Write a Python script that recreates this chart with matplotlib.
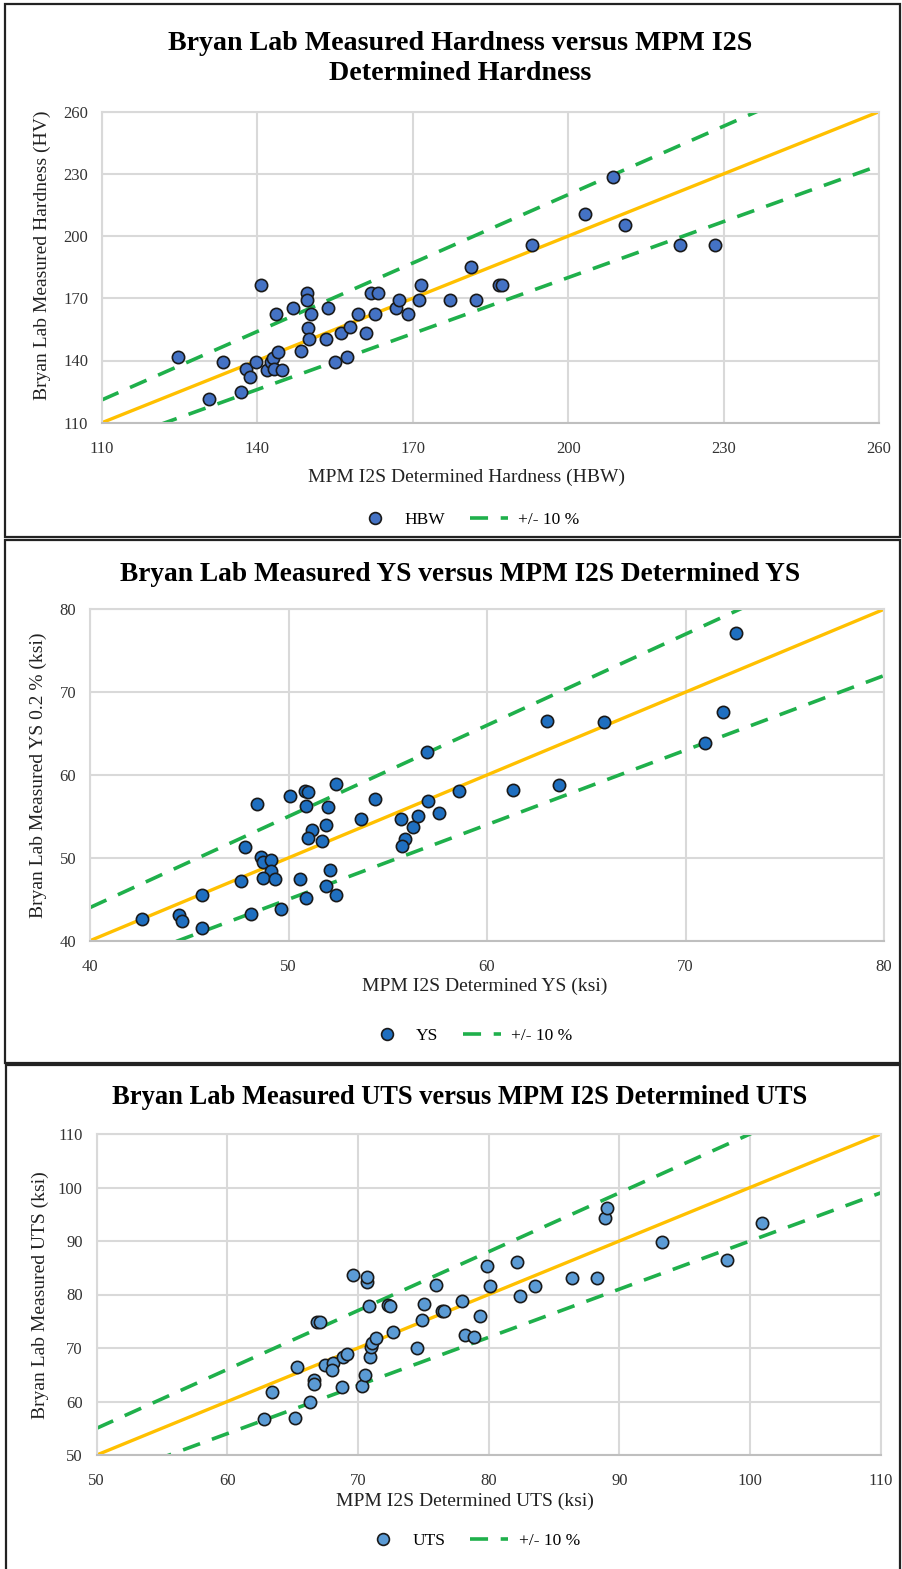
import matplotlib
matplotlib.use("Agg")
import matplotlib.pyplot as plt
from matplotlib.lines import Line2D
from matplotlib.patches import Rectangle

# Panel 1: hardness
hbw_x = [124.6, 130.7, 133.4, 136.9, 137.8, 138.6, 139.7, 140.8, 141.8, 142.7,
         143.0, 143.2, 143.9, 143.6, 144.8, 146.8, 148.5, 149.5, 149.5, 150.4,
         149.8, 150.0, 153.6, 153.3, 154.9, 156.2, 157.3, 157.9, 159.4, 161.0,
         162.0, 163.2, 162.8, 166.7, 167.4, 169.0, 171.6, 171.3, 177.1, 181.2,
         182.3, 186.7, 187.2, 193.0, 203.3, 208.7, 211.0, 221.5, 228.4]
hv_y = [141.6, 121.3, 139.2, 125.0, 135.8, 132.2, 139.2, 176.2, 135.6, 139.2,
        141.1, 135.8, 144.3, 162.2, 135.5, 165.3, 144.5, 172.5, 169.3, 162.2,
        155.9, 150.6, 165.4, 150.6, 139.2, 153.5, 141.6, 156.1, 162.2, 153.5,
        172.5, 172.5, 162.2, 165.4, 169.3, 162.2, 176.2, 169.3, 169.3, 185.2,
        169.3, 176.2, 176.2, 195.5, 210.7, 228.4, 205.5, 195.5, 195.5]

# Panel 2: yield strength (ksi)
ys_x = [42.6, 44.5, 44.65, 45.66, 45.66, 47.59, 47.8, 48.4, 48.1, 48.6,
        48.7, 49.1, 49.1, 48.7, 49.3, 49.6, 50.1, 50.85, 51.0, 50.9,
        51.2, 51.0, 50.6, 50.9, 51.7, 52.4, 52.0, 51.9, 52.1, 51.9,
        52.4, 53.65, 54.34, 55.67, 55.87, 55.7, 56.29, 56.5, 56.96, 57.05,
        57.6, 58.6, 61.3, 63.04, 65.9, 63.63, 70.98, 71.89, 72.54]
ys_y = [42.6, 43.1, 42.4, 41.57, 45.55, 47.24, 51.3, 56.5, 43.2, 50.1,
        49.5, 49.7, 48.4, 47.6, 47.5, 43.8, 57.5, 58.07, 58.0, 56.3,
        53.4, 52.4, 47.4, 45.2, 52.0, 58.95, 56.1, 53.97, 48.5, 46.6,
        45.55, 54.7, 57.14, 54.7, 52.3, 51.4, 53.7, 55.0, 62.8, 56.9,
        55.45, 58.07, 58.15, 66.55, 66.4, 58.83, 63.83, 67.57, 77.1]

# Panel 3: ultimate tensile strength (ksi)
uts_x = [62.8, 63.4, 65.2, 65.3, 66.3, 66.6, 66.6, 66.86, 67.1, 67.47,
         68.06, 68.0, 68.8, 68.87, 69.15, 69.6, 70.28, 70.55, 70.68, 70.7,
         70.86, 70.9, 70.99, 71.1, 71.37, 72.3, 72.46, 72.65, 74.53, 74.9,
         75.04, 75.94, 76.44, 76.6, 77.97, 78.2, 78.9, 79.3, 79.84, 80.07,
         82.16, 82.36, 83.56, 86.4, 88.3, 88.9, 89.07, 93.25, 98.2, 100.9]
uts_y = [56.7, 61.7, 57.0, 66.5, 59.85, 64.0, 63.2, 74.86, 74.86, 66.9,
         67.26, 65.8, 62.8, 68.26, 68.9, 83.6, 62.96, 64.95, 82.4, 83.27,
         77.8, 68.26, 70.25, 70.9, 71.8, 78.0, 77.8, 73.0, 70.06, 75.2,
         78.3, 81.7, 76.9, 76.9, 78.8, 72.5, 72.1, 76.0, 85.3, 81.5,
         86.1, 79.66, 81.5, 83.1, 83.1, 94.3, 96.2, 89.9, 86.45, 93.3]

W, H = 902, 1569
SERIF = ["Liberation Serif", "DejaVu Serif"]
GREEN = "#1FB04B"
ORANGE = "#FFC000"
GRID = "#D9D9D9"


def fx(px):
    return px / W


def fy(py):
    return 1 - py / H


def panel(fig, box, lims, step, xs, ys, color, name, title_lines, title_y,
          title_size, xlabel, xlabel_pos, ylabel, ylabel_pos, legend_pos):
    """Draw one boxed scatter panel; box and positions are in pixels."""
    x0, x1, ytop, ybot = box
    ax = fig.add_axes([fx(x0), fy(ybot), fx(x1 - x0), (ybot - ytop) / H])
    lo, hi = lims
    ticks = list(range(lo, hi + 1, step))
    ax.set_xlim(lo, hi)
    ax.set_ylim(lo, hi)
    ax.set_xticks(ticks)
    ax.set_yticks(ticks)
    ax.grid(True, color=GRID, lw=1.5)
    ax.set_axisbelow(True)
    for s in ax.spines.values():
        s.set_color(GRID)
        s.set_linewidth(1.5)
    ax.spines["bottom"].set_color("#BFBFBF")
    ax.tick_params(length=0, labelsize=12, colors="#333333")
    ax.tick_params(axis="x", pad=13)
    ax.tick_params(axis="y", pad=10)
    for lab in ax.get_xticklabels() + ax.get_yticklabels():
        lab.set_family(SERIF)

    ax.plot([lo, hi], [lo, hi], color=ORANGE, lw=2.4, zorder=2)
    ax.plot([lo, hi], [1.1 * lo, 1.1 * hi], color=GREEN, lw=2.6,
            dashes=(5, 3.5), zorder=2)
    ax.plot([lo, hi], [0.9 * lo, 0.9 * hi], color=GREEN, lw=2.6,
            dashes=(5, 3.5), zorder=2)
    ax.scatter(xs, ys, s=78, color=color, edgecolor="#1A1A1A",
               linewidth=1.2, zorder=3, clip_on=False)

    for i, line in enumerate(title_lines):
        fig.text(fx(460), fy(title_y + i * 31), line,
                 ha="center", va="center", fontsize=title_size,
                 fontweight="bold", family=SERIF)
    fig.text(fx(xlabel_pos[0]), fy(xlabel_pos[1]), xlabel, ha="center",
             va="center", fontsize=14, family=SERIF, color="#222222")
    fig.text(fx(ylabel_pos[0]), fy(ylabel_pos[1]), ylabel, ha="center",
             va="center", rotation=90, fontsize=14, family=SERIF,
             color="#222222")

    handles = [
        Line2D([], [], ls="none", marker="o", ms=8.5, mfc=color,
               mec="#1A1A1A", mew=1.2, label=name),
        Line2D([], [], color=GREEN, lw=2.6, dashes=(5, 3.5),
               label="+/- 10 %"),
    ]
    ax.legend(handles=handles, loc="center", ncol=2, frameon=False,
              bbox_to_anchor=(fx(legend_pos[0]), fy(legend_pos[1])),
              bbox_transform=fig.transFigure, prop={"family": SERIF,
                                                    "size": 12.5},
              handlelength=2.2, columnspacing=1.4, handletextpad=0.6)
    return ax


def main():
    fig = plt.figure(figsize=(W / 100, H / 100), dpi=100)

    # boxes around the three panels
    for left, top, bottom in [(5, 4, 537), (5, 540, 1063), (6, 1065, 1572)]:
        fig.add_artist(Rectangle((fx(left), fy(bottom)), fx(900 - left),
                                 (bottom - top) / H, fill=False,
                                 ec="#222222", lw=1.6,
                                 transform=fig.transFigure))

    panel(fig, (101.9, 879, 111.7, 422.7), (110, 260), 30, hbw_x, hv_y,
          "#4472C4", "HBW",
          ["Bryan Lab Measured Hardness versus MPM I2S",
           "Determined Hardness"], 43, 20.2,
          "MPM I2S Determined Hardness (HBW)", (466, 477),
          "Bryan Lab Measured Hardness (HV)", (42, 255), (468, 520))

    panel(fig, (90, 884, 609.3, 940.7), (40, 80), 10, ys_x, ys_y,
          "#1F6FC0", "YS",
          ["Bryan Lab Measured YS versus MPM I2S Determined YS"], 574, 19.7,
          "MPM I2S Determined YS (ksi)", (485, 986),
          "Bryan Lab Measured YS 0.2 % (ksi)", (38, 775), (470, 1036))

    panel(fig, (96.7, 880.7, 1134, 1455), (50, 110), 10, uts_x, uts_y,
          "#5B9BD5", "UTS",
          ["Bryan Lab Measured UTS versus MPM I2S Determined UTS"], 1098,
          19.1,
          "MPM I2S Determined UTS (ksi)", (465, 1501),
          "Bryan Lab Measured UTS (ksi)", (40, 1295), (472, 1541))

    fig.savefig("out.png", dpi=100)


if __name__ == "__main__":
    main()
